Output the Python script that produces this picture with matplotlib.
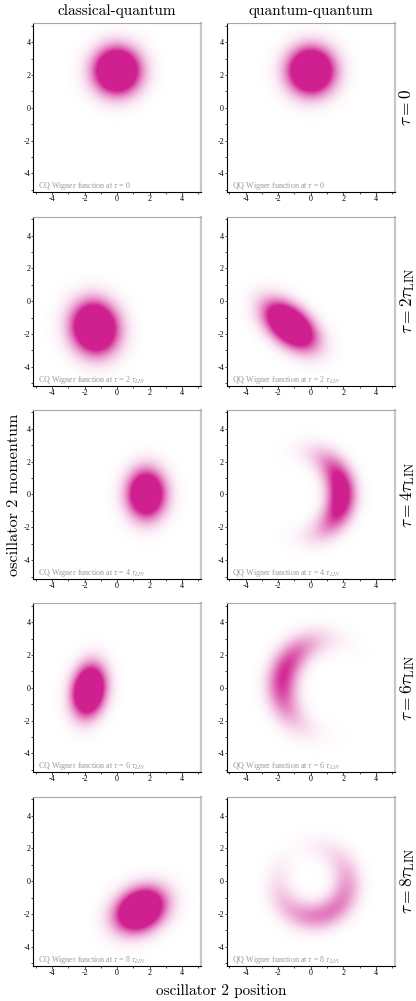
import numpy as np
import matplotlib
matplotlib.use("Agg")
import matplotlib.pyplot as plt
from matplotlib.colors import LinearSegmentedColormap
from matplotlib.ticker import MultipleLocator

col_titles = ["classical-quantum", "quantum-quantum"]
tau_steps = [0, 2, 4, 6, 8]
row_labels = [r"$\tau = 0$", r"$\tau = 2\tau_{\rm LIN}$", r"$\tau = 4\tau_{\rm LIN}$",
              r"$\tau = 6\tau_{\rm LIN}$", r"$\tau = 8\tau_{\rm LIN}$"]
tick_values = [-4, -2, 0, 2, 4]

# blob descriptions (bend = 1/radius of the crescent arc, 0 = plain ellipse)
cq_x0 = [0.00, -1.37, 1.80, -1.73, 1.43]
cq_y0 = [2.24, -1.60, 0.00, -0.18, -1.73]
cq_tilt = [0, 105, 90, 80, 30]
cq_sig_along = [0.88, 0.99, 0.92, 0.96, 0.99]
cq_sig_across = [0.88, 0.87, 0.73, 0.61, 0.75]
cq_bend = [0, 0, 0, 0, 0]
cq_peak = [2.6, 2.6, 2.2, 2.6, 2.6]

qq_x0 = [0.00, -1.30, 1.85, -1.67, 1.15]
qq_y0 = [2.24, -1.46, 0.00, 0.77, -1.82]
qq_tilt = [0, 140, 90, 255, 30]
qq_sig_along = [0.88, 1.13, 1.65, 1.95, 2.60]
qq_sig_across = [0.88, 0.65, 0.56, 0.60, 0.58]
qq_bend = [0, 0, 0.39, 0.35, 0.48]
qq_peak = [2.6, 2.6, 1.4, 0.95, 0.6]

LIM = 5.15
W, H = 416, 1001
PANEL_W, PANEL_H = 167.5, 169
COL_LEFT = [33.3, 227.0]
ROW_TOP = [23.3 + 193.35 * i for i in range(5)]

wigner_cmap = LinearSegmentedColormap.from_list("wigner", ["#ffffff", "#d02090"])


def blob(X, Y, x0, y0, tilt, s_along, s_across, bend):
    t = np.radians(tilt)
    dx, dy = X - x0, Y - y0
    u = dx * np.cos(t) + dy * np.sin(t)
    v = -dx * np.sin(t) + dy * np.cos(t)
    if bend == 0:
        along, across = u, v
    else:
        r = 1.0 / bend
        along = r * np.arctan2(u, r - v)
        across = r - np.hypot(u, r - v)
    return np.exp(-0.5 * (along / s_along) ** 2 - 0.5 * (across / s_across) ** 2)


def note_text(prefix, step):
    if step == 0:
        return prefix + r" Wigner function at $\tau$ = 0"
    return prefix + r" Wigner function at $\tau$ = %d $\tau_{LIN}$" % step


def style_axes(ax):
    ax.set_xlim(-LIM, LIM)
    ax.set_ylim(-LIM, LIM)
    ax.set_xticks(tick_values)
    ax.set_yticks(tick_values)
    ax.xaxis.set_minor_locator(MultipleLocator(1))
    ax.yaxis.set_minor_locator(MultipleLocator(1))
    ax.tick_params(which="both", direction="out", width=0.5, labelsize=5.8, pad=0.3)
    ax.tick_params(which="major", length=1.8)
    ax.tick_params(which="minor", length=1.1)
    for side in ["left", "bottom"]:
        ax.spines[side].set_color("black")
        ax.spines[side].set_linewidth(0.8)
    ax.spines["top"].set_color("#a8a8a8")
    ax.spines["top"].set_linewidth(0.8)
    ax.spines["right"].set_color("#c8c8c8")
    ax.spines["right"].set_linewidth(1.6)


def panel(fig, col, row, params, prefix, X, Y):
    left = COL_LEFT[col] / W
    bottom = 1 - (ROW_TOP[row] + PANEL_H) / H
    ax = fig.add_axes([left, bottom, PANEL_W / W, PANEL_H / H])
    x0, y0, tilt, sa, sc, bend, peak = [p[row] for p in params]
    field = np.clip(peak * blob(X, Y, x0, y0, tilt, sa, sc, bend), 0, 1)
    ax.imshow(field, cmap=wigner_cmap, vmin=0, vmax=1, origin="lower",
              extent=(-LIM, LIM, -LIM, LIM), interpolation="bilinear", aspect="auto")
    ax.text(0.028, 0.024, note_text(prefix, tau_steps[row]), transform=ax.transAxes,
            fontsize=5.8, color="#9a9a9a", family="Liberation Serif",
            math_fontfamily="stix", ha="left", va="baseline")
    style_axes(ax)
    return ax


def main():
    plt.rcParams["font.family"] = ["Liberation Serif", "DejaVu Serif"]
    plt.rcParams["axes.unicode_minus"] = False
    fig = plt.figure(figsize=(W / 100, H / 100), dpi=100)

    grid = np.linspace(-LIM, LIM, 400)
    X, Y = np.meshgrid(grid, grid)
    cq = [cq_x0, cq_y0, cq_tilt, cq_sig_along, cq_sig_across, cq_bend, cq_peak]
    qq = [qq_x0, qq_y0, qq_tilt, qq_sig_along, qq_sig_across, qq_bend, qq_peak]

    for row in range(5):
        panel(fig, 0, row, cq, "CQ", X, Y)
        panel(fig, 1, row, qq, "QQ", X, Y)
        yc = 1 - (ROW_TOP[row] + PANEL_H / 2) / H
        fig.text(0.979, yc, row_labels[row], rotation=90, ha="center", va="center",
                 fontsize=12.5, math_fontfamily="cm")

    for col in range(2):
        xc = (COL_LEFT[col] + PANEL_W / 2) / W
        fig.text(xc, 1 - 15.5 / H, col_titles[col], family="cmr10", fontsize=11,
                 ha="center", va="baseline")

    fig.text(0.531, 6 / H, "oscillator 2 position", family="cmr10", fontsize=11,
             ha="center", va="baseline")
    fig.text(0.033, 1 - 495 / H, "oscillator 2 momentum", family="cmr10", fontsize=11.7,
             rotation=90, ha="center", va="center")

    fig.savefig("out.png", dpi=100)


if __name__ == "__main__":
    main()
